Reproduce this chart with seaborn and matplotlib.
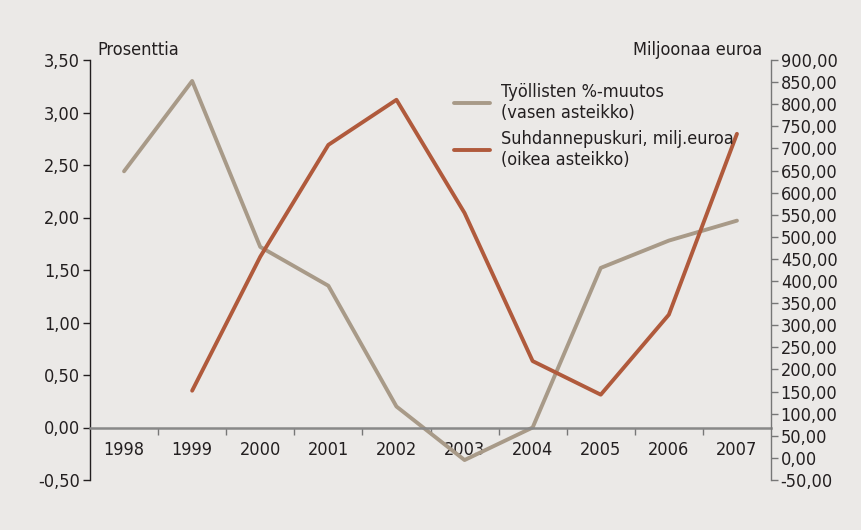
import matplotlib
matplotlib.use("Agg")
import matplotlib.pyplot as plt
import seaborn as sns
import numpy as np
import pandas as pd

years = [1998, 1999, 2000, 2001, 2002, 2003, 2004, 2005, 2006, 2007]
tyolliset = [2.44, 3.30, 1.72, 1.35, 0.20, -0.31, 0.00, 1.52, 1.78, 1.97]
puskuri_years = [1999, 2000, 2001, 2002, 2003, 2004, 2005, 2006, 2007]
puskuri = [152, 455, 708, 810, 554, 219, 143, 324, 733]
left_ticks = [-0.5, 0, 0.5, 1.0, 1.5, 2.0, 2.5, 3.0, 3.5]
right_ticks = list(range(-50, 901, 50))

sns.set_theme(style="white")
plt.rcParams['font.family'] = ['DejaVu Sans']
plt.rcParams['font.stretch'] = 'condensed'

bg = "#ebe9e7"
gray = "#a89a88"
red = "#b05a3c"
txt = "#231f20"
fs = 13

fig = plt.figure(figsize=(8.61, 5.30), dpi=100, facecolor=bg)
ax = fig.add_axes([90/861, 1-480/530, (771-90)/861, 420/530])
ax.set_facecolor(bg)
ax2 = ax.twinx()

df1 = pd.DataFrame({"year": years, "v": tyolliset})
df2 = pd.DataFrame({"year": puskuri_years, "v": puskuri})
sns.lineplot(data=df1, x="year", y="v", ax=ax, color=gray, lw=2.8, label="Työllisten %-muutos\n(vasen asteikko)", legend=False)
sns.lineplot(data=df2, x="year", y="v", ax=ax2, color=red, lw=2.8, label="Suhdannepuskuri, milj.euroa\n(oikea asteikko)", legend=False)

ax.set_xlim(1997.5, 2007.5)
ax.set_ylim(-0.5, 3.5)
ax2.set_ylim(-50, 900)
ax.set_yticks(left_ticks)
ax.set_yticklabels([f"{t:.2f}".replace(".", ",") for t in left_ticks])
ax2.set_yticks(right_ticks)
ax2.set_yticklabels([f"{t:.2f}".replace(".", ",") for t in right_ticks])

ax.set_xticks(years)
ax.set_xticklabels([str(y) for y in years])
ax.set_xticks(np.arange(1998.5, 2007.5, 1), minor=True)
ax.tick_params(axis='x', which='major', length=0, pad=10, labelsize=fs, labelcolor=txt)
ax.tick_params(axis='x', which='minor', bottom=True, length=5, color="#777777", width=1, direction='out')
ax.tick_params(axis='y', left=True, length=5, color=txt, width=1, direction='out', pad=2, labelsize=fs, labelcolor=txt)
ax2.tick_params(axis='y', right=True, length=5, color="#777777", width=1, direction='out', pad=2, labelsize=fs, labelcolor=txt)
ax.set_xlabel("")
ax.set_ylabel("")
ax2.set_ylabel("")

for a in (ax, ax2):
    for s in a.spines.values():
        s.set_visible(False)
ax.spines['left'].set_visible(True)
ax.spines['left'].set_color(txt)
ax.spines['left'].set_linewidth(1)
ax.spines['bottom'].set_visible(True)
ax.spines['bottom'].set_position(('data', 0))
ax.spines['bottom'].set_color("#888888")
ax.spines['bottom'].set_linewidth(1.8)
ax2.spines['right'].set_visible(True)
ax2.spines['right'].set_color("#777777")
ax2.spines['right'].set_linewidth(1)
ax.grid(False)
ax2.grid(False)

fig.text(97/861, 1-50/530, "Prosenttia", fontsize=fs, color=txt, va='center', ha='left')
fig.text(762/861, 1-50/530, "Miljoonaa euroa", fontsize=fs, color=txt, va='center', ha='right')

h1, l1 = ax.get_legend_handles_labels()
h2, l2 = ax2.get_legend_handles_labels()
leg = ax2.legend(h1 + h2, l1 + l2, loc='upper left', bbox_to_anchor=(357/681, 1-16/420),
                 frameon=False, fontsize=fs, handlelength=2.0, labelspacing=0.45,
                 handletextpad=0.6, borderaxespad=0)
for t in leg.get_texts():
    t.set_color(txt)

fig.savefig("out.png", dpi=100, facecolor=bg)
